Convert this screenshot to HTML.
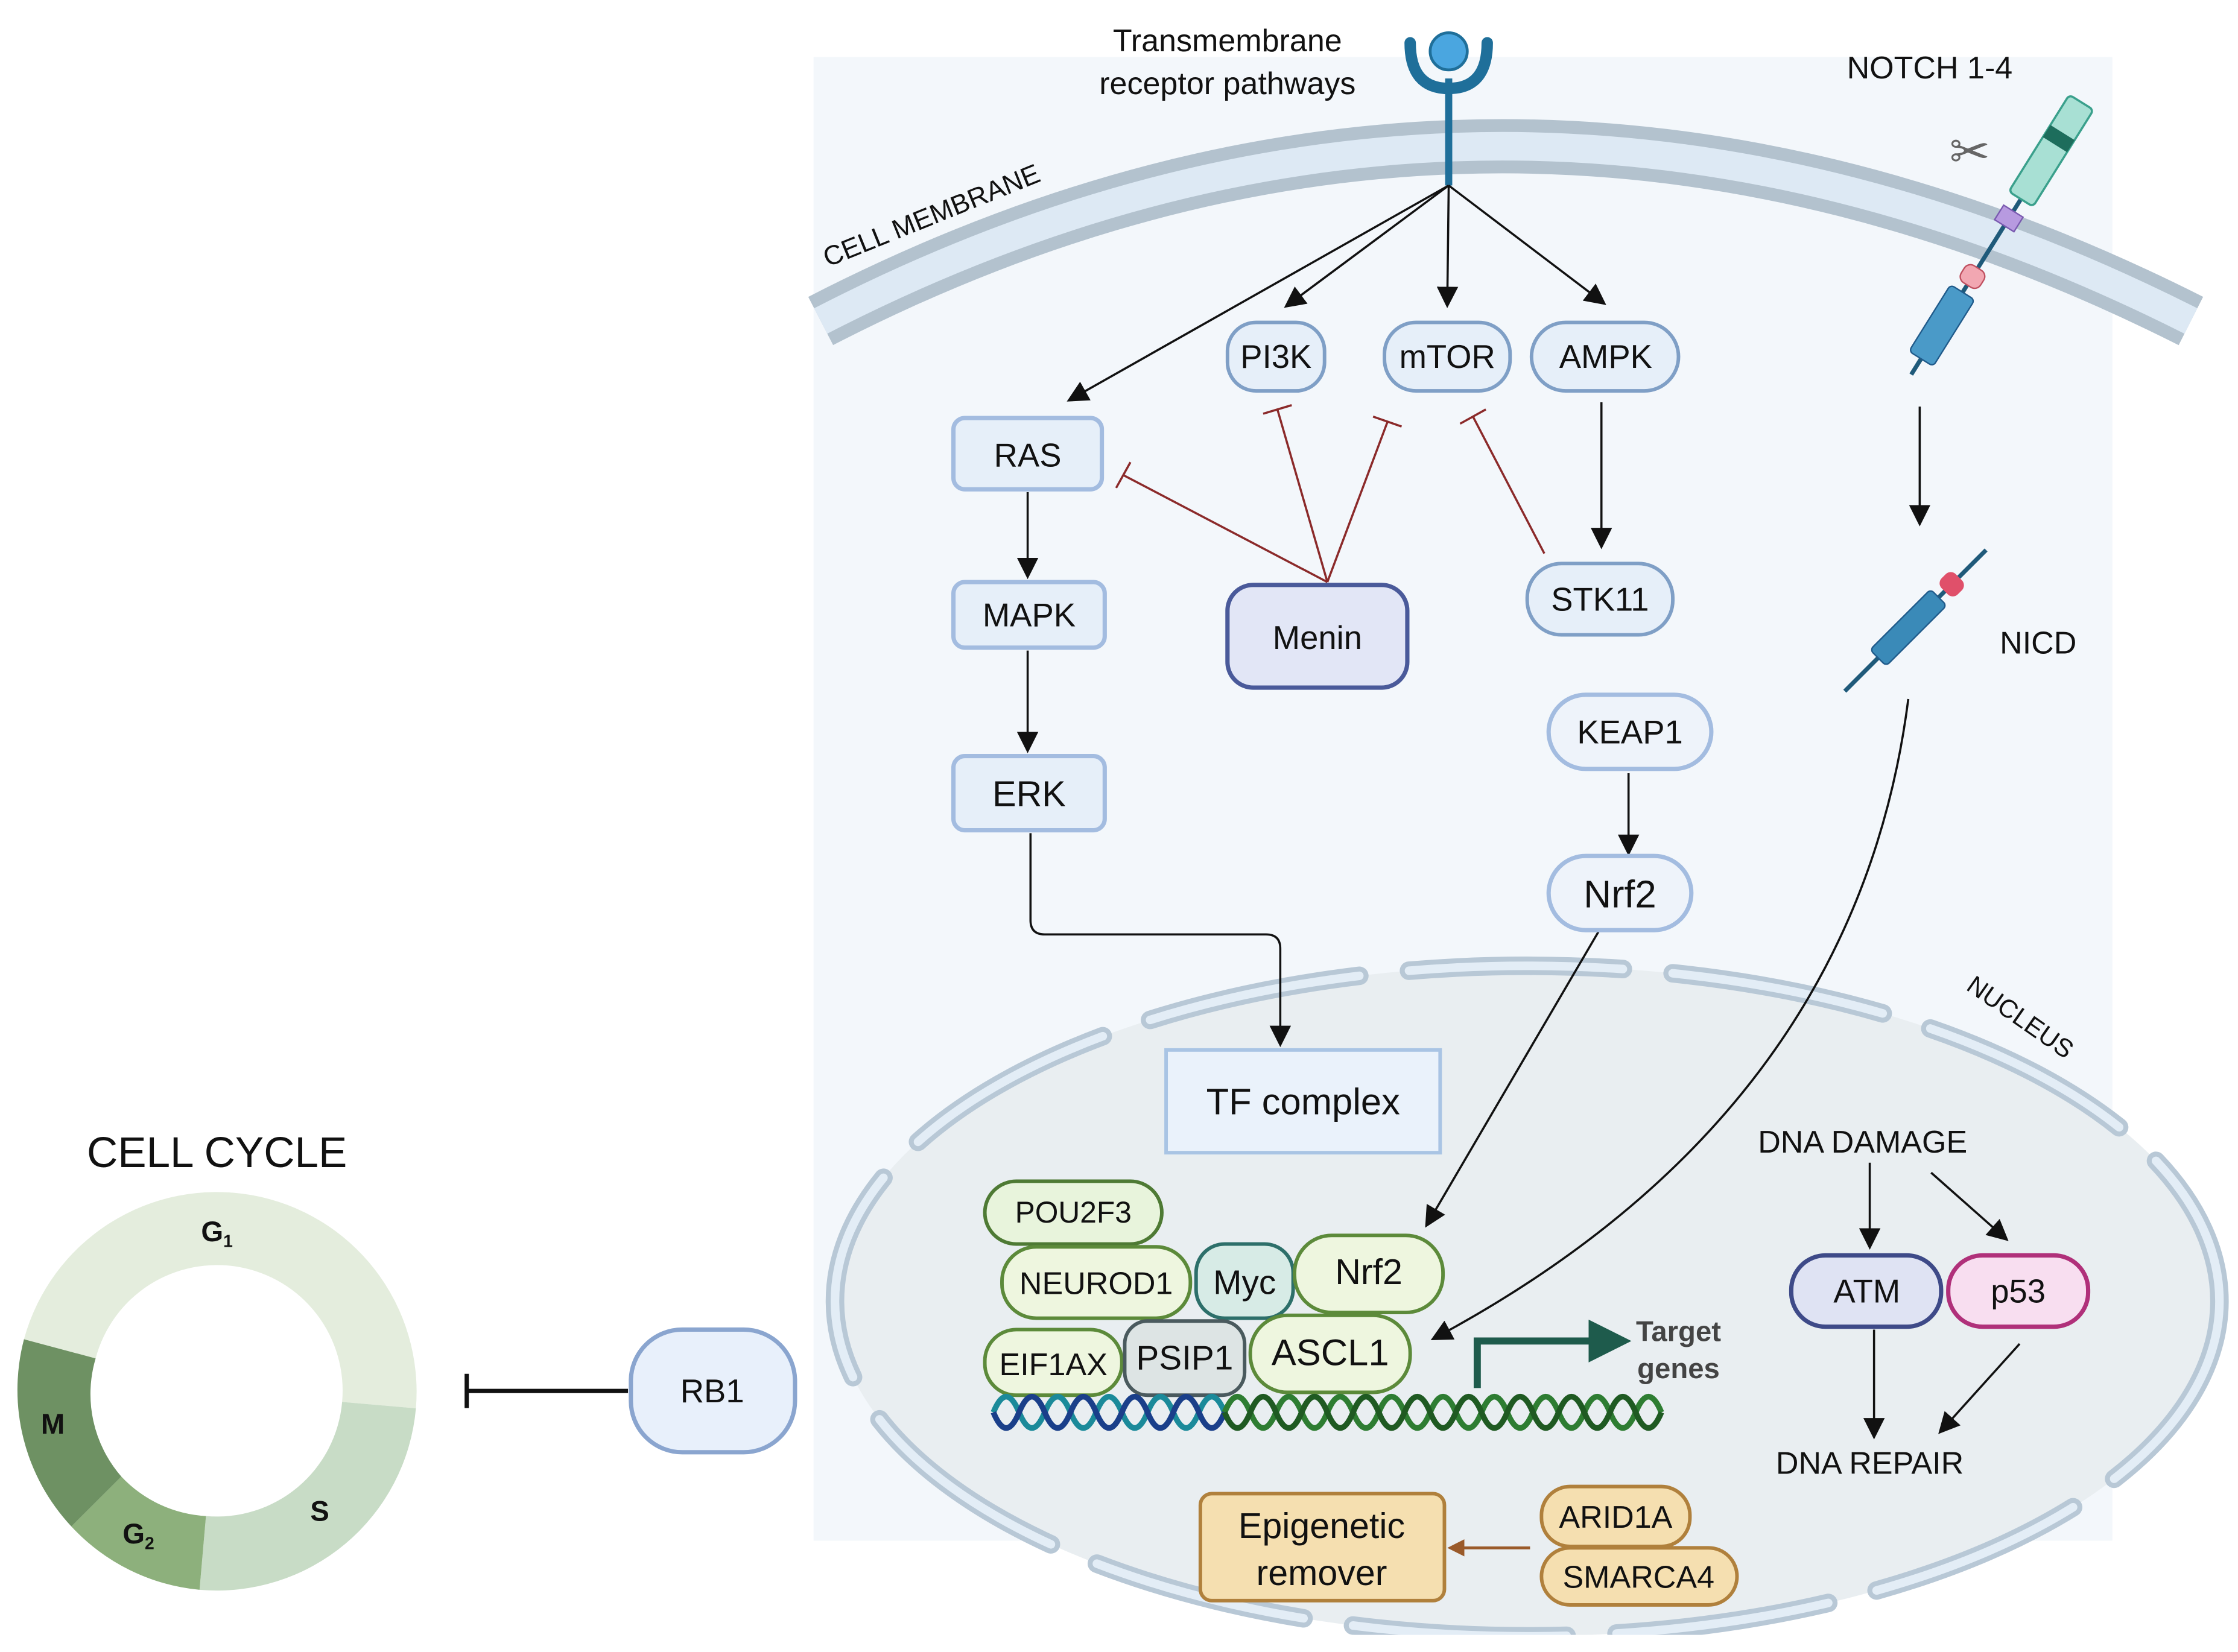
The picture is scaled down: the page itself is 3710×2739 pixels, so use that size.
<!DOCTYPE html>
<html><head><meta charset="utf-8"><style>
html,body{margin:0;padding:0;background:#fff;}
svg{display:block;}
text{font-family:"Liberation Sans",sans-serif;fill:#111;}
</style></head><body>
<svg width="3710" height="2739" viewBox="0 0 1568 1158" preserveAspectRatio="none" xmlns="http://www.w3.org/2000/svg">
<defs>
<marker id="ahb" markerWidth="10" markerHeight="10" refX="8" refY="5" orient="auto" viewBox="0 0 10 10"><path d="M0,0 L10,5 L0,10 Z" fill="#111"/></marker>
<marker id="ahg" markerWidth="6" markerHeight="6" refX="4" refY="3" orient="auto" viewBox="0 0 6 6"><path d="M0,0 L6,3 L0,6 Z" fill="#1e5b4c"/></marker>
<marker id="ahr" markerWidth="6" markerHeight="6" refX="4" refY="3" orient="auto" viewBox="0 0 6 6"><path d="M0,0 L6,3 L0,6 Z" fill="#9a5a2a"/></marker>
</defs>
<rect width="1568" height="1158" fill="#fff"/>
<path d="M570,40 L1480,40 L1480,1080 L570,1080 Z" fill="#f3f7fb"/>
<path d="M575,225 Q1050,-20 1535,225" fill="none" stroke="#b3c2ce" stroke-width="38"/>
<path d="M575,225 Q1050,-20 1535,225" fill="none" stroke="#dde9f4" stroke-width="20"/>
<text x="655" y="157" font-size="19" transform="rotate(-22 655 157)" text-anchor="middle">CELL MEMBRANE</text>
<ellipse cx="1070" cy="912" rx="485" ry="235" fill="#e9eef1"/>
<ellipse cx="1070" cy="912" rx="485" ry="235" fill="none" stroke="#b8c8d6" stroke-width="13" stroke-dasharray="150 35" stroke-linecap="round"/>
<ellipse cx="1070" cy="912" rx="485" ry="235" fill="none" stroke="#e3edf6" stroke-width="6" stroke-dasharray="150 35" stroke-linecap="round"/>
<rect x="570" y="1146" width="1000" height="12" fill="#fff"/>
<text x="1412" y="718" font-size="18" transform="rotate(35 1412 718)" text-anchor="middle">NUCLEUS</text>

<line x1="1015" y1="55" x2="1015" y2="130" stroke="#1f6f9a" stroke-width="5"/>
<path d="M988,30 Q988,62 1015,62 Q1042,62 1042,30" fill="none" stroke="#1f6f9a" stroke-width="8" stroke-linecap="round"/>
<circle cx="1015" cy="36" r="13" fill="#4aa6e0" stroke="#1f6f9a" stroke-width="2"/>
<text x="860" y="36" font-size="22" text-anchor="middle">Transmembrane</text>
<text x="860" y="66" font-size="22" text-anchor="middle">receptor  pathways</text>

<g stroke="#111" stroke-width="1.5" fill="none">
<line x1="1015" y1="130" x2="750" y2="280" marker-end="url(#ahb)"/>
<line x1="1015" y1="130" x2="902" y2="214" marker-end="url(#ahb)"/>
<line x1="1015" y1="130" x2="1014" y2="213" marker-end="url(#ahb)"/>
<line x1="1015" y1="130" x2="1123" y2="212" marker-end="url(#ahb)"/>
<line x1="1122" y1="282" x2="1122" y2="382" marker-end="url(#ahb)"/>
<line x1="720" y1="345" x2="720" y2="403" marker-end="url(#ahb)"/>
<line x1="720" y1="456" x2="720" y2="525" marker-end="url(#ahb)"/>
<path d="M722,584 V645 Q722,655 732,655 H887 Q897,655 897,665 V731" marker-end="url(#ahb)"/>
<line x1="1141" y1="542" x2="1141" y2="597" marker-end="url(#ahb)"/>
<line x1="1120" y1="653" x2="1000" y2="858" marker-end="url(#ahb)"/>
<path d="M1337,490 Q1300,780 1005,938" marker-end="url(#ahb)"/>
<line x1="1345" y1="285" x2="1345" y2="366" marker-end="url(#ahb)"/>
<line x1="1310" y1="815" x2="1310" y2="873" marker-end="url(#ahb)"/>
<line x1="1353" y1="822" x2="1405" y2="868" marker-end="url(#ahb)"/>
<line x1="1313" y1="932" x2="1313" y2="1006" marker-end="url(#ahb)"/>
<line x1="1415" y1="942" x2="1360" y2="1003" marker-end="url(#ahb)"/>
</g>
<g stroke="#8b2a2a" stroke-width="1.5" fill="none">
<line x1="930" y1="408" x2="787" y2="333"/><line x1="782" y1="342" x2="792" y2="324"/>
<line x1="930" y1="408" x2="895" y2="287"/><line x1="885" y1="290" x2="905" y2="284"/>
<line x1="930" y1="408" x2="972" y2="296"/><line x1="962" y1="292" x2="982" y2="299"/>
<line x1="1082" y1="388" x2="1032" y2="292"/><line x1="1023" y1="297" x2="1041" y2="287"/>
</g>

<g font-size="23" text-anchor="middle">
<rect x="860" y="226" width="68" height="48" rx="20" fill="#e6eff9" stroke="#7f9fc6" stroke-width="2.5"/><text x="894" y="258">PI3K</text>
<rect x="970" y="226" width="88" height="48" rx="22" fill="#e6eff9" stroke="#7f9fc6" stroke-width="2.5"/><text x="1014" y="258">mTOR</text>
<rect x="1073" y="226" width="103" height="48" rx="24" fill="#e6eff9" stroke="#7f9fc6" stroke-width="2.5"/><text x="1125" y="258">AMPK</text>
<rect x="668" y="293" width="104" height="50" rx="8" fill="#e6eff9" stroke="#a3bce0" stroke-width="3"/><text x="720" y="327">RAS</text>
<rect x="668" y="408" width="106" height="46" rx="8" fill="#e6eff9" stroke="#a3bce0" stroke-width="3"/><text x="721" y="439">MAPK</text>
<rect x="668" y="530" width="106" height="52" rx="8" fill="#e6eff9" stroke="#a3bce0" stroke-width="3"/><text x="721" y="565" font-size="25">ERK</text>
<rect x="860" y="410" width="126" height="72" rx="18" fill="#e2e6f6" stroke="#4a5a9a" stroke-width="3"/><text x="923" y="455">Menin</text>
<rect x="1070" y="395" width="102" height="50" rx="24" fill="#e6eff9" stroke="#7f9fc6" stroke-width="2.5"/><text x="1121" y="428">STK11</text>
<rect x="1085" y="487" width="114" height="52" rx="26" fill="#eef3fa" stroke="#a3bce0" stroke-width="3"/><text x="1142" y="521">KEAP1</text>
<rect x="1085" y="600" width="100" height="52" rx="26" fill="#eef3fa" stroke="#a3bce0" stroke-width="3"/><text x="1135" y="636" font-size="27">Nrf2</text>
<rect x="817" y="736" width="192" height="72" fill="#eaf2fb" stroke="#a9c4e4" stroke-width="2.5"/><text x="913" y="781" font-size="26">TF complex</text>
<rect x="442" y="932" width="115" height="86" rx="36" fill="#e8f0fb" stroke="#8aa5cf" stroke-width="3"/><text x="499" y="983">RB1</text>
</g>
<g font-size="22" text-anchor="middle">
<rect x="690" y="828" width="124" height="44" rx="22" fill="#e8f4dc" stroke="#4e7a34" stroke-width="2.5"/><text x="752" y="857" font-size="21">POU2F3</text>
<rect x="702" y="874" width="132" height="50" rx="24" fill="#eef6df" stroke="#5c8a3a" stroke-width="2.5"/><text x="768" y="907">NEUROD1</text>
<rect x="838" y="872" width="68" height="52" rx="20" fill="#d7ebe6" stroke="#2d6f6a" stroke-width="2.5"/><text x="872" y="907" font-size="24">Myc</text>
<rect x="907" y="866" width="104" height="54" rx="26" fill="#eef6df" stroke="#5c8a3a" stroke-width="2.5"/><text x="959" y="900" font-size="25">Nrf2</text>
<rect x="690" y="932" width="96" height="46" rx="22" fill="#eef6df" stroke="#5c8a3a" stroke-width="2.5"/><text x="738" y="964">EIF1AX</text>
<rect x="788" y="926" width="84" height="52" rx="16" fill="#dde4e4" stroke="#4a5a5e" stroke-width="2.5"/><text x="830" y="960" font-size="24">PSIP1</text>
<rect x="876" y="922" width="112" height="54" rx="26" fill="#eef6df" stroke="#5c8a3a" stroke-width="2.5"/><text x="932" y="957" font-size="26">ASCL1</text>
</g>
<!-- DNA -->
<path d="M696,990 q9,-22 18,0 t18,0 t18,0 t18,0 t18,0 t18,0 t18,0 t18,0 t18,0" fill="none" stroke="#1b8a9a" stroke-width="4"/>
<path d="M696,990 q9,22 18,0 t18,0 t18,0 t18,0 t18,0 t18,0 t18,0 t18,0 t18,0" fill="none" stroke="#1a3f8a" stroke-width="4"/>
<path d="M858,990 q9,-22 18,0 t18,0 t18,0 t18,0 t18,0 t18,0 t18,0 t18,0 t18,0 t18,0 t18,0 t18,0 t18,0 t18,0 t18,0 t18,0 t18,0" fill="none" stroke="#2e7d32" stroke-width="4"/>
<path d="M858,990 q9,22 18,0 t18,0 t18,0 t18,0 t18,0 t18,0 t18,0 t18,0 t18,0 t18,0 t18,0 t18,0 t18,0 t18,0 t18,0 t18,0 t18,0" fill="none" stroke="#1f5a22" stroke-width="4"/>
<path d="M1035,973 V940 H1133" fill="none" stroke="#1e5b4c" stroke-width="5" marker-end="url(#ahg)"/>
<text x="1176" y="940" font-size="20" font-weight="bold" text-anchor="middle" style="fill:#444">Target</text>
<text x="1176" y="966" font-size="20" font-weight="bold" text-anchor="middle" style="fill:#444">genes</text>
<rect x="841" y="1047" width="171" height="75" rx="8" fill="#f5dfb0" stroke="#b0803c" stroke-width="2.5"/>
<text x="926" y="1078" font-size="25" text-anchor="middle">Epigenetic</text>
<text x="926" y="1111" font-size="25" text-anchor="middle">remover</text>
<rect x="1080" y="1042" width="104" height="42" rx="20" fill="#f5dfb0" stroke="#b0803c" stroke-width="2.5"/><text x="1132" y="1071" font-size="22" text-anchor="middle">ARID1A</text>
<rect x="1080" y="1085" width="137" height="40" rx="20" fill="#f5dfb0" stroke="#b0803c" stroke-width="2.5"/><text x="1148" y="1113" font-size="22" text-anchor="middle">SMARCA4</text>
<line x1="1072" y1="1085" x2="1018" y2="1085" stroke="#9a5a2a" stroke-width="2" marker-end="url(#ahr)"/>
<text x="1305" y="808" font-size="22" text-anchor="middle">DNA DAMAGE</text>
<rect x="1255" y="880" width="105" height="50" rx="24" fill="#dfe3f3" stroke="#3e4a88" stroke-width="3"/><text x="1308" y="913" font-size="23" text-anchor="middle">ATM</text>
<rect x="1365" y="880" width="98" height="50" rx="24" fill="#f8def0" stroke="#b0307a" stroke-width="3"/><text x="1414" y="913" font-size="23" text-anchor="middle">p53</text>
<text x="1310" y="1033" font-size="22" text-anchor="middle">DNA REPAIR</text>
<text x="1352" y="55" font-size="22" text-anchor="middle">NOTCH 1-4</text>
<g transform="rotate(32 1400 165)">
<line x1="1400" y1="55" x2="1400" y2="280" stroke="#1f5a7a" stroke-width="3"/>
<rect x="1390" y="55" width="20" height="80" rx="3" fill="#a8e0d4" stroke="#3aa08c" stroke-width="1.5"/>
<rect x="1390" y="80" width="20" height="10" fill="#1d6d5c"/>
<rect x="1392" y="145" width="16" height="12" fill="#b79ae0" stroke="#7a5ab0"/>
<rect x="1392" y="192" width="16" height="14" rx="5" fill="#f2a7b2" stroke="#c05060"/>
<rect x="1390" y="212" width="20" height="55" rx="3" fill="#4a9ac8" stroke="#1f5a8a"/>
</g>
<text x="1380" y="118" font-size="34" text-anchor="middle" style="fill:#666">✂</text>
<g transform="rotate(45 1342 435)">
<line x1="1342" y1="365" x2="1342" y2="505" stroke="#1f5a7a" stroke-width="3"/>
<rect x="1334" y="392" width="16" height="14" rx="5" fill="#e0506a"/>
<rect x="1334" y="412" width="16" height="60" rx="3" fill="#3a8ab8" stroke="#1f5a8a"/>
</g>
<text x="1428" y="458" font-size="22" text-anchor="middle">NICD</text>

<text x="152" y="818" font-size="30" text-anchor="middle">CELL CYCLE</text>
<path d="M16.8,938.8 A140 140 0 0 1 291.4,987.2 L239.7,982.7 A88 88 0 0 0 67,952.2 Z" fill="#e4eddd"/>
<path d="M291.4,987.2 A140 140 0 0 1 139.8,1114.4 L144.3,1062.7 A88 88 0 0 0 239.7,982.7 Z" fill="#c8dcc6"/>
<path d="M139.8,1114.4 A140 140 0 0 1 50,1070 L85,1035 A88 88 0 0 0 144.3,1062.7 Z" fill="#8db07c"/>
<path d="M50,1070 A140 140 0 0 1 16.8,938.8 L67,952.2 A88 88 0 0 0 85,1035 Z" fill="#6e9163"/>
<text x="152" y="870" font-size="20" font-weight="bold" text-anchor="middle">G<tspan font-size="12" dy="4">1</tspan></text>
<text x="224" y="1066" font-size="20" font-weight="bold" text-anchor="middle">S</text>
<text x="97" y="1082" font-size="20" font-weight="bold" text-anchor="middle">G<tspan font-size="12" dy="4">2</tspan></text>
<text x="37" y="1005" font-size="20" font-weight="bold" text-anchor="middle">M</text>
<line x1="327" y1="975" x2="440" y2="975" stroke="#111" stroke-width="3"/>
<line x1="327" y1="963" x2="327" y2="987" stroke="#111" stroke-width="3"/>
</svg>
</body></html>
